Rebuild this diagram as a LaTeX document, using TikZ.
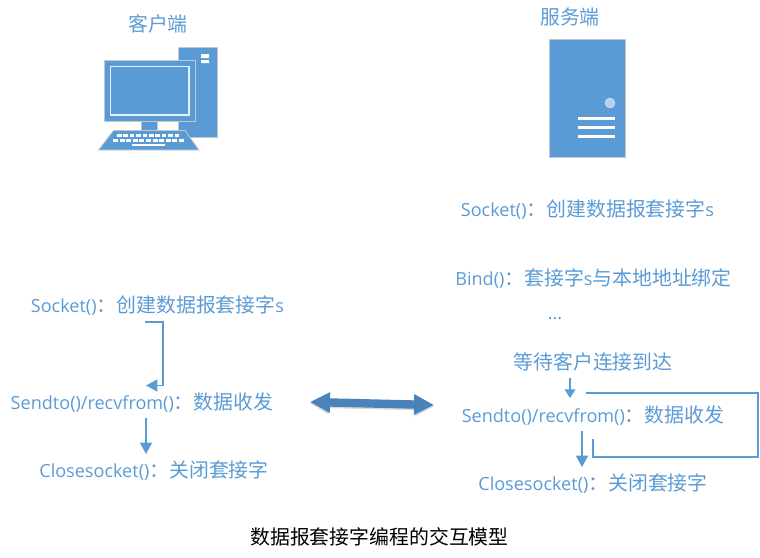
\documentclass[tikz,border=0pt]{standalone}
\usepackage{fontspec}
\setmainfont{Open Sans}
\newfontfamily\cjk{Noto Sans CJK SC}
\usetikzlibrary{arrows.meta}
\definecolor{blu}{HTML}{5B9BD5}
\definecolor{dblu}{HTML}{4A83BA}
\definecolor{edge}{HTML}{C4C8CC}
\tikzset{
  lab/.style={text=blu,font=\fontsize{13.55}{16}\selectfont,inner sep=0pt},
  captxt/.style={text=black,font=\fontsize{14.9}{18}\selectfont\cjk,inner sep=0pt},
  head/.style={text=blu,font=\fontsize{14.9}{18}\selectfont\cjk,inner sep=0pt},
  conn/.style={draw=blu,line width=1.1pt,-{Triangle[length=8.5pt,width=9pt]}},
  body/.style={fill=blu,draw=edge,line width=0.6pt},
  wline/.style={draw=white,line width=2.2pt},
}
\newcommand{\zh}[1]{{\cjk\fontsize{14.9}{18}\selectfont #1}}
\begin{document}
\begin{tikzpicture}[x=0.75pt,y=-0.75pt]
\useasboundingbox (0,0) rectangle (760,557);
% client computer
\path[body] (178.5,47.5) rectangle (217,137);
\path[fill=white] (201,54) rectangle (209,58) (201,60) rectangle (209,63);
\path[body] (141,121) rectangle (157,131);
\path[body] (104.5,60.5) rectangle (195,121);
\draw[draw=white!85!blu,line width=0.9pt] (110.5,66.5) rectangle (189,115);
\path[body] (113.5,130.5) -- (185,130.5) -- (199,150) -- (98.5,150) -- cycle;
\foreach \i in {0,...,9}{\fill[white] ({117+\i*6.4},134) rectangle ({121.5+\i*6.4},136.5);}
\foreach \i in {0,...,10}{\fill[white] ({113+\i*6.6},139) rectangle ({118+\i*6.6},142);}
\fill[white] (132,143.5) rectangle (165,146);
% server
\path[body] (549.5,39.5) rectangle (625,157);
\fill[fill=white!55!blu,draw=white!70!blu,line width=0.4pt] (610,103) circle (5);
\draw[wline] (578,118.5) -- (615,118.5);
\draw[wline] (578,127.5) -- (615,127.5);
\draw[wline] (578,136.5) -- (615,136.5);
% text
\node[head] (client) at (158,24) {客户端};
\node[head] (server) at (570,16.5) {服务端};
\node[lab] (ssock) at (587.5,209.8) {Socket()\zh{：创建数据报套接字}s};
\node[lab] (bind) at (593.5,278.8) {Bind()\zh{：套接字}s\zh{与本地地址绑定}};
\node[lab] (dots) at (555,318.5) {...};
\node[head] (wait) at (593,362) {等待客户连接到达};
\node[lab] (ssend) at (593,415.8) {Sendto()/recvfrom()\zh{：数据收发}};
\node[lab] (sclose) at (593,483.8) {Closesocket()\zh{：关闭套接字}};
\node[lab] (csock) at (157.5,305.8) {Socket()\zh{：创建数据报套接字}s};
\node[lab] (csend) at (142,402.8) {Sendto()/recvfrom()\zh{：数据收发}};
\node[lab] (cclose) at (154,470.8) {Closesocket()\zh{：关闭套接字}};
\node[captxt] (title) at (379.5,537) {数据报套接字编程的交互模型};
% connector ends
\coordinate (a1) at (145,322);
\coordinate (a2) at (146,385.5);
\coordinate (b1) at (146,418);
\coordinate (b2) at (146,454);
\coordinate (c1) at (570,378);
\coordinate (c2) at (570,398);
\coordinate (d1) at (582,431);
\coordinate (d2) at (582,467);
\coordinate (e1) at (586,393);
\coordinate (e2) at (593,439);
\coordinate (f1) at (310,402);
\coordinate (f2) at (434,405);
% connectors
\draw[draw=blu,line width=1.1pt,-{Triangle[length=8.5pt,width=9pt]}] (a1) -| (163,385.5) -- (a2);
\draw[conn] (b1) -- (b2);
\draw[draw=blu,line width=1.1pt,-{Triangle[length=6.5pt,width=8pt]}] (c1) -- (c2);
\draw[conn] (d1) -- (d2);
\draw[draw=blu,line width=1.1pt] (e1) -- (758,393) -- (758,457) -- (593,457) -- (e2);
% double arrow
\draw[draw=gray,opacity=0.3,line width=6.5pt,{Triangle[length=14pt,width=15pt]}-{Triangle[length=14pt,width=15pt]}] ([yshift=-1pt]f1) -- ([yshift=-1pt]f2);
\draw[draw=dblu,line width=6.3pt,{Triangle[length=15pt,width=14.5pt]}-{Triangle[length=15pt,width=14.5pt]}] (f1) -- (f2);
\end{tikzpicture}
\end{document}
